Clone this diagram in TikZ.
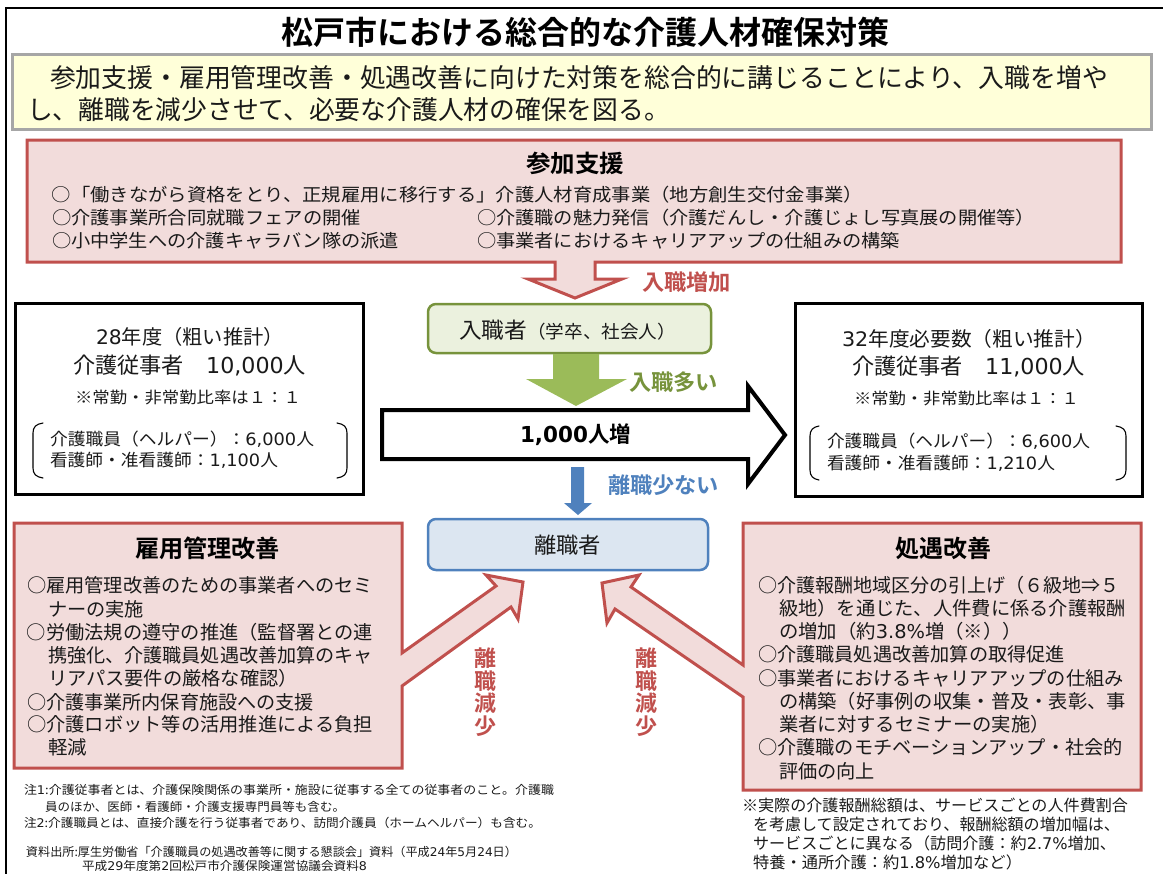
\documentclass[tikz,border=0pt]{standalone}
\usepackage{fontspec}
\usepackage{graphicx}
\setmainfont{Noto Sans CJK JP}[BoldFont={Noto Sans CJK JP Bold}]
\newfontfamily\lat{DejaVu Sans}
\newcommand\dv[1]{{\lat #1}}
\definecolor{redln}{HTML}{C0504D}
\definecolor{redfl}{HTML}{F2DCDB}
\definecolor{grnln}{HTML}{77933C}
\definecolor{grnfl}{HTML}{EBF1DE}
\definecolor{grnar}{HTML}{9BBB59}
\definecolor{bluln}{HTML}{4F81BD}
\definecolor{blufl}{HTML}{DCE6F1}
\definecolor{yelfl}{HTML}{FFFFD9}
\definecolor{grayln}{HTML}{A6A6A6}
\definecolor{txtdk}{HTML}{1A1A1A}
\tikzset{
  redshape/.style={draw=redln,fill=redfl,line width=3bp,line join=miter},
  blackbox/.style={draw=black,fill=white,line width=3bp},
  bracketln/.style={draw=black,line width=1.1bp,line cap=round},
  txtline/.style={anchor=base west,inner sep=0pt,outer sep=0pt,text=txtdk},
  boldred/.style={font=\bfseries,text=redln},
}
% name, x0, x1, y-centre, size, text : one line of text fitted to its measured width
\newcommand\tline[7][]{%
  \node[txtline,#1] (#2) at ({#3},{#5+0.40*#6})
    {\resizebox{\dimexpr#4bp-#3bp\relax}{\height}{\fontsize{#6bp}{#6bp}\selectfont #7}};}
\begin{document}
\begin{tikzpicture}[x=1bp,y=-1bp]
\useasboundingbox (0,0) rectangle (1163,874);
% outer frame
\draw[black,line width=2bp] (6,874) -- (6,8) -- (1163,8);
% title
\tline[font=\bfseries,text=black]{title}{281}{889}{32}{32}{松戸市における総合的な介護人材確保対策}
% yellow banner
\draw[draw=grayln,fill=yelfl,line width=3bp] (12,54) rectangle (1151,129);
\tline{yel1}{50}{1108}{77}{26}{参加支援・雇用管理改善・処遇改善に向けた対策を総合的に講じることにより、入職を増や}
\tline{yel2}{27}{670}{109}{26}{し、離職を減少させて、必要な介護人材の確保を図る。}
% participation box with its arrow
\draw[redshape] (27,140) -- (1121,140) -- (1121,262) -- (595,262) -- (595,279) -- (622,279)
  -- (575,298) -- (528,279) -- (555,279) -- (555,262) -- (27,262) -- cycle;
\tline[font=\bfseries,text=black]{sankah}{526}{624}{163}{24}{参加支援}
\tline{san1}{52}{863}{194}{18}{○「働きながら資格をとり、正規雇用に移行する」介護人材育成事業（地方創生交付金事業）}
\tline{san2}{52}{361}{217}{18}{○介護事業所合同就職フェアの開催}
\tline{san3}{477}{1035}{217}{18}{○介護職の魅力発信（介護だんし・介護じょし写真展の開催等）}
\tline{san4}{52}{399}{240}{18}{○小中学生への介護キャラバン隊の派遣}
\tline{san5}{477}{900}{240}{18}{○事業者におけるキャリアアップの仕組みの構築}
\tline[boldred]{nyuzo}{642}{731}{282}{22}{入職増加}
% entrants
\draw[draw=grnln,fill=grnfl,line width=2.5bp,rounded corners=8bp] (428,304) rectangle (711,353);
\tline{nyusha}{459}{676}{330}{22}{入職者{\fontsize{18bp}{18bp}\selectfont（学卒、社会人）}}
\fill[grnar] (553,354) -- (599,354) -- (599,379) -- (627,379) -- (576,406) -- (526,379) -- (553,379) -- cycle;
\tline[font=\bfseries,text=grnln]{nyuoi}{629}{718}{382}{22}{入職多い}
% large arrow
\draw[draw=black,fill=white,line width=4bp,line join=miter] (382,410) -- (748,410) -- (748,386) -- (785,435)
  -- (748,484) -- (748,459) -- (382,459) -- cycle;
\tline[font=\bfseries,text=black]{zo}{520}{631}{434}{22}{{\lat\bfseries 1,000}人増}
% leavers
\fill[bluln] (571,467) -- (584,467) -- (584,503) -- (592,503) -- (578,515) -- (564,503) -- (571,503) -- cycle;
\tline[font=\bfseries,text=bluln]{rishosu}{608}{719}{485}{22}{離職少ない}
\draw[draw=bluln,fill=blufl,line width=2.5bp,rounded corners=8bp] (428,519) rectangle (708,570);
\tline{risha}{534}{601}{545}{22}{離職者}
% left figures
\draw[blackbox] (15,303) rectangle (363,494);
\tline{lf1}{96}{284}{336}{20}{\dv{28}年度（粗い推計）}
\tline{lf2}{73}{306}{365}{22}{介護従事者　\dv{10,000}人}
\tline{lf3}{75}{301}{397}{16}{※常勤・非常勤比率は１：１}
\tline{lf4}{50}{314}{439}{17}{介護職員（ヘルパー）：\dv{6,000}人}
\tline{lf5}{50}{278}{460}{17}{看護師・准看護師：\dv{1,100}人}
\draw[bracketln] (43,423) .. controls (36,424) and (33,427) .. (33,433) -- (33,468) .. controls (33,474) and (36,477) .. (43,478);
\draw[bracketln] (337,423) .. controls (344,424) and (347,427) .. (347,433) -- (347,468) .. controls (347,474) and (344,477) .. (337,478);
% right figures
\draw[blackbox] (795,303) rectangle (1142,496);
\tline{rf1}{842}{1096}{338}{20}{\dv{32}年度必要数（粗い推計）}
\tline{rf2}{852}{1085}{366}{22}{介護従事者　\dv{11,000}人}
\tline{rf3}{854}{1079}{398}{16}{※常勤・非常勤比率は１：１}
\tline{rf4}{827}{1090}{441}{17}{介護職員（ヘルパー）：\dv{6,600}人}
\tline{rf5}{827}{1055}{463}{17}{看護師・准看護師：\dv{1,210}人}
\draw[bracketln] (819,426) .. controls (813,427) and (810,430) .. (810,436) -- (810,470) .. controls (810,476) and (813,479) .. (819,480);
\draw[bracketln] (1116,426) .. controls (1123,427) and (1126,430) .. (1126,436) -- (1126,470) .. controls (1126,476) and (1123,479) .. (1116,480);
% employment management box with arrow
\draw[redshape] (14,523) -- (402,523) -- (402,653) -- (496,586) -- (486,575) -- (523,582) -- (518,619)
  -- (511,607) -- (402,686) -- (402,768) -- (14,768) -- cycle;
\tline[font=\bfseries,text=black]{kah}{135}{280}{548}{24}{雇用管理改善}
\tline{ka1}{27}{373}{585}{19}{○雇用管理改善のための事業者へのセミ}
\tline{ka2}{48}{144}{609}{19}{ナーの実施}
\tline{ka3}{27}{373}{632}{19}{○労働法規の遵守の推進（監督署との連}
\tline{ka4}{48}{373}{655}{19}{携強化、介護職員処遇改善加算のキャ}
\tline{ka5}{48}{298}{678}{19}{リアパス要件の厳格な確認）}
\tline{ka6}{27}{314}{702}{19}{○介護事業所内保育施設への支援}
\tline{ka7}{27}{373}{724}{19}{○介護ロボット等の活用推進による負担}
\tline{ka8}{48}{87}{747}{19}{軽減}
% treatment box with arrow
\draw[redshape] (743,523) -- (1141,523) -- (1141,790) -- (743,790) -- (743,697) -- (615,609) -- (607,623)
  -- (602,583) -- (639,575) -- (631,587) -- (743,665) -- cycle;
\tline[font=\bfseries,text=black]{shoh}{895}{991}{548}{24}{処遇改善}
\tline{sh1}{758}{1120}{585}{19}{○介護報酬地域区分の引上げ（６級地⇒５}
\tline{sh2}{779}{1126}{608}{19}{級地）を通じた、人件費に係る介護報酬}
\tline{sh3}{779}{1022}{631}{19}{の増加（約\dv{3.8\%}増（※））}
\tline{sh4}{758}{1065}{654}{19}{○介護職員処遇改善加算の取得促進}
\tline{sh5}{758}{1124}{678}{19}{○事業者におけるキャリアアップの仕組み}
\tline{sh6}{779}{1126}{701}{19}{の構築（好事例の収集・普及・表彰、事}
\tline{sh7}{779}{1050}{724}{19}{業者に対するセミナーの実施）}
\tline{sh8}{758}{1123}{747}{19}{○介護職のモチベーションアップ・社会的}
\tline{sh9}{779}{875}{771}{19}{評価の向上}
% vertical labels
\node[inner sep=0pt,align=center,boldred,font=\bfseries\fontsize{22bp}{22.5bp}\selectfont] (genL) at (485,692) {離\\職\\減\\少};
\node[inner sep=0pt,align=center,boldred,font=\bfseries\fontsize{22bp}{22.5bp}\selectfont] (genR) at (646,692) {離\\職\\減\\少};
% right note
\tline{fr1}{742}{1128}{805}{16}{※実際の介護報酬総額は、サービスごとの人件費割合}
\tline{fr2}{753}{1120}{824}{16}{を考慮して設定されており、報酬総額の増加幅は、}
\tline{fr3}{753}{1116}{843}{16}{サービスごとに異なる（訪問介護：約\dv{2.7\%}増加、}
\tline{fr4}{753}{1022}{862}{16}{特養・通所介護：約\dv{1.8\%}増加など）}
% left notes
\tline{fl1}{24}{554}{790}{12}{注\dv{1}:介護従事者とは、介護保険関係の事業所・施設に従事する全ての従事者のこと。介護職}
\tline{fl2}{45}{345}{807}{12}{員のほか、医師・看護師・介護支援専門員等も含む。}
\tline{fl3}{24}{541}{823}{12}{注\dv{2}:介護職員とは、直接介護を行う従事者であり、訪問介護員（ホームヘルパー）も含む。}
\tline{fl4}{26}{517}{852}{12}{資料出所:厚生労働省「介護職員の処遇改善等に関する懇談会」資料（平成\dv{24}年\dv{5}月\dv{24}日）}
\tline{fl5}{82}{367}{866}{12}{平成\dv{29}年度第\dv{2}回松戸市介護保険運営協議会資料\dv{8}}
\end{tikzpicture}
\end{document}
